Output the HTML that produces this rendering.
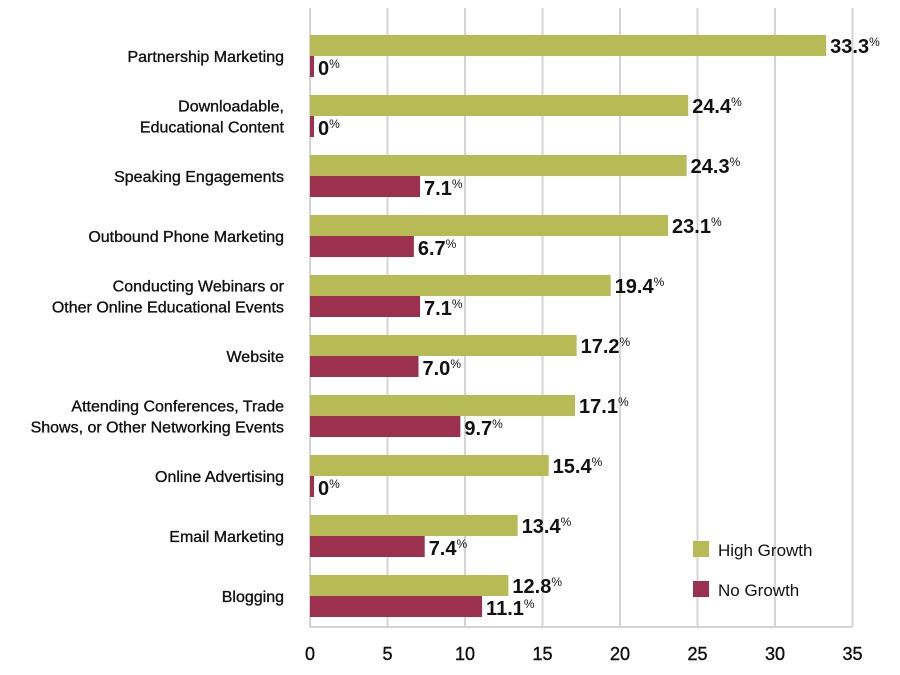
<!DOCTYPE html>
<html><head><meta charset="utf-8"><style>
body{margin:0;background:#fff;}
svg text{font-family:"Liberation Sans",sans-serif;}
</style></head><body>
<svg width="900" height="670" viewBox="0 0 900 670">
<g id="grid"></g><g id="bars"></g><g id="labels"></g>
<g>
<rect x="693" y="541" width="16" height="16" fill="#b7bb55"/>
<text x="718" y="556" font-size="17" fill="#111">High Growth</text>
<rect x="693" y="581" width="16" height="16" fill="#9c304f"/>
<text x="718" y="596" font-size="17" fill="#111">No Growth</text>
</g>
</svg>
<script>
const categories=[["Partnership Marketing"],["Downloadable,","Educational Content"],["Speaking Engagements"],["Outbound Phone Marketing"],["Conducting Webinars or","Other Online Educational Events"],["Website"],["Attending Conferences, Trade","Shows, or Other Networking Events"],["Online Advertising"],["Email Marketing"],["Blogging"]];
const highGrowth=[33.3,24.4,24.3,23.1,19.4,17.2,17.1,15.4,13.4,12.8];
const noGrowth=[0,0,7.1,6.7,7.1,7.0,9.7,0,7.4,11.1];
const ticks=[0,5,10,15,20,25,30,35];
const NS="http://www.w3.org/2000/svg";
const x=v=>310+v*15.5;
const yc=i=>56+i*60;
function mk(tag,attrs,parent,txt){const e=document.createElementNS(NS,tag);for(const k in attrs)e.setAttribute(k,attrs[k]);if(txt!==undefined)e.textContent=txt;document.getElementById(parent).appendChild(e);return e;}
ticks.forEach(t=>{
 const l=mk('line',{x1:x(t),x2:x(t),y1:8,y2:627,stroke:'#d4d4d4','stroke-width':2},'grid');
 
 
 const tx=mk('text',{x:x(t),y:660,'text-anchor':'middle','font-size':18,fill:'#111',stroke:'#111','stroke-width':0.4},'grid',String(t));
 
 
});
const base=mk('line',{x1:310,x2:852,y1:627,y2:627,stroke:'#d4d4d4','stroke-width':2},'grid');


function fmt(v){return v===0?'0':v.toFixed(1);}
function valLabel(v,xx,yy,name){
 const t=mk('text',{x:xx,y:yy,'font-size':20,'font-weight':'bold',fill:'#111'},'labels');
 
 
 const a=document.createElementNS(NS,'tspan');a.textContent=fmt(v);t.appendChild(a);
 const b=document.createElementNS(NS,'tspan');b.setAttribute('font-size',12);b.setAttribute('dy',-7);b.setAttribute('font-weight','normal');b.textContent='%';t.appendChild(b);
}
categories.forEach((c,i)=>{
 const cy=yc(i);
 const g=mk('rect',{x:310,y:cy-21,width:Math.max(x(highGrowth[i])-310,0),height:21,fill:'#b7bb55'},'bars');
 
 
 const w=noGrowth[i]===0?4:x(noGrowth[i])-310;
 const r=mk('rect',{x:310,y:cy,width:w,height:21,fill:'#9c304f'},'bars');
 
 
 valLabel(highGrowth[i],x(highGrowth[i])+4,cy-3,'value-high-growth-'+i);
 valLabel(noGrowth[i],x(noGrowth[i])+(noGrowth[i]===0?8:4),cy+19,'value-no-growth-'+i);
 const n=c.length;
 c.forEach((line,j)=>{
  const t=mk('text',{x:284,y:cy+6+(j-(n-1)/2)*21,'text-anchor':'end','font-size':16,fill:'#111',stroke:'#111','stroke-width':0.35},'labels',line);
  
  
 });
});
</script>
</body></html>
